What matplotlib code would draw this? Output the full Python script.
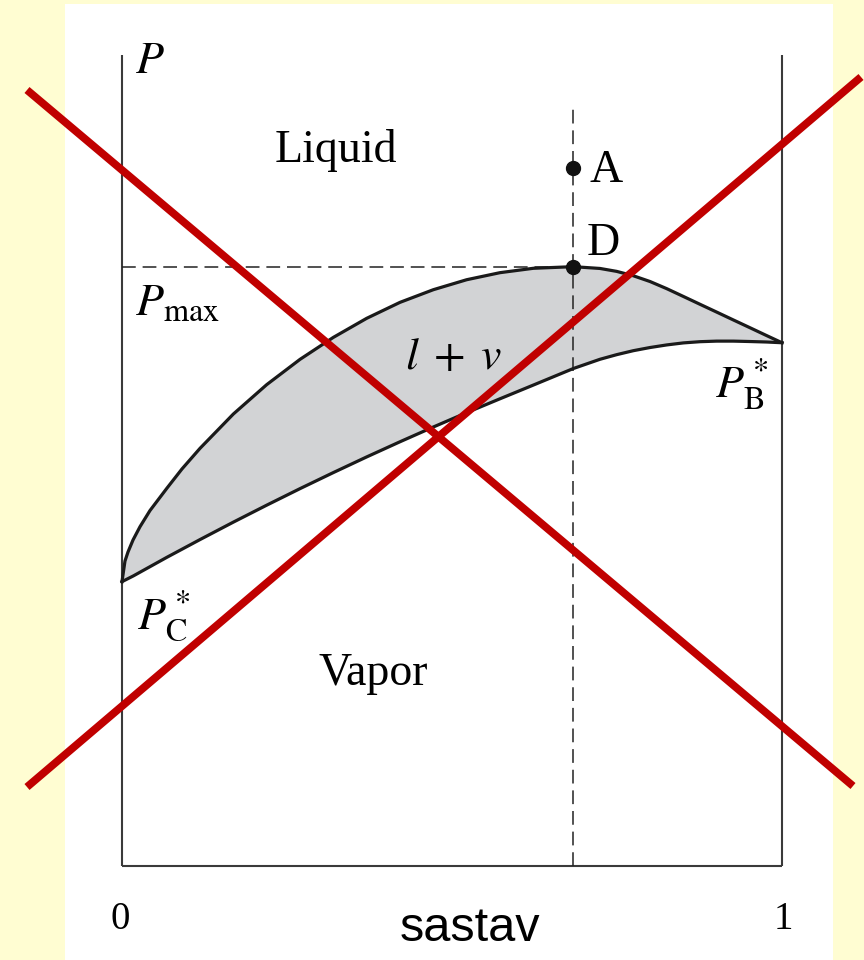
import matplotlib
matplotlib.use("Agg")
import numpy as np
import matplotlib.pyplot as plt
from matplotlib.lines import Line2D
from matplotlib.patches import Rectangle

plt.rcParams['mathtext.fontset'] = 'stix'

# Composition (mole fraction) and pressure, arbitrary units (axis top = 100)
# liquid (bubble-point) curve
x_liquid = [0.0, 0.0045, 0.0091, 0.0167, 0.0273, 0.0424, 0.0682, 0.0909, 0.1182,
            0.1687, 0.2192, 0.2697, 0.3202, 0.3707, 0.4212, 0.4717, 0.5222, 0.5727,
            0.6232, 0.6838, 0.7242, 0.7495, 0.7747, 0.8000, 0.8253, 0.8505, 0.8758,
            0.9010, 0.9263, 0.9515, 0.9768, 1.0]
P_liquid = [35.06, 37.6, 38.72, 40.2, 41.84, 43.83, 46.6, 48.96, 51.50,
            55.73, 59.35, 62.47, 65.18, 67.53, 69.50, 71.06, 72.29, 73.16,
            73.70, 73.90, 73.68, 73.32, 72.78, 72.07, 71.19, 70.23, 69.26,
            68.30, 67.33, 66.37, 65.40, 64.52]

# vapour (dew-point) curve
x_vapor = [0.0, 0.0172, 0.0677, 0.1182, 0.1687, 0.2192, 0.2697, 0.3202, 0.3707,
           0.4212, 0.4717, 0.5222, 0.5727, 0.6232, 0.6838, 0.7242, 0.7495, 0.7747,
           0.8000, 0.8253, 0.8505, 0.8758, 0.9010, 0.9263, 0.9515, 0.9768, 1.0]
P_vapor = [35.06, 35.77, 38.05, 40.25, 42.40, 44.49, 46.53, 48.51, 50.44,
           52.31, 54.13, 55.90, 57.61, 59.30, 61.34, 62.48, 63.05, 63.54,
           63.93, 64.25, 64.50, 64.65, 64.72, 64.72, 64.67, 64.61, 64.52]

x_azeo = 0.6838
P_max = 73.90
P_A = 86.1
P_dash_top = 93.6

fig = plt.figure(figsize=(8.64, 9.6), dpi=100)
fig.patch.set_facecolor('#FFFDD2')
fig.add_artist(Rectangle((65 / 864, 0), (833 - 65) / 864, 956 / 960,
                         transform=fig.transFigure, facecolor='white',
                         edgecolor='none', zorder=0))

ax = fig.add_axes([122 / 864, 94 / 960, 660 / 864, 811 / 960])
ax.set_xlim(0, 1)
ax.set_ylim(0, 100)
ax.axis('off')
ax.patch.set_alpha(0)

# frame: two pressure axes and the composition axis
frame_kw = dict(color='#3a3a3a', lw=1.5, clip_on=False, solid_capstyle='butt')
ax.plot([0, 0], [0, 100], **frame_kw)
ax.plot([1, 1], [0, 100], **frame_kw)
ax.plot([0, 1], [0, 0], **frame_kw)

# two-phase region between the curves
ax.fill(np.concatenate([x_liquid, x_vapor[::-1]]),
        np.concatenate([P_liquid, P_vapor[::-1]]),
        color='#D2D3D5', lw=0, zorder=1)
curve_kw = dict(color='#1a1a1a', lw=2.3, zorder=3, clip_on=False,
                solid_joinstyle='round')
ax.plot(x_liquid, P_liquid, **curve_kw)
ax.plot(x_vapor, P_vapor, **curve_kw)

# dashed guide lines
dash_kw = dict(color='#222222', lw=1.1, linestyle=(0, (9, 4.5)), zorder=2, clip_on=False)
ax.plot([0, x_azeo], [P_max, P_max], **dash_kw)
ax.plot([x_azeo, x_azeo], [0, P_dash_top], **dash_kw)

# points A and D
ax.plot([x_azeo, x_azeo], [P_A, P_max], 'o', color='#111111', ms=10, zorder=4, clip_on=False)

serif = 'Liberation Serif'
fs = 33
ax.text(0.02, 97.8, r'$P$', fontsize=fs, ha='left', va='baseline')
ax.text(0.232, 86.8, 'Liquid', family=serif, fontsize=fs, ha='left', va='baseline')
ax.text(0.708, 84.4, 'A', family=serif, fontsize=fs, ha='left', va='baseline')
ax.text(0.704, 75.3, 'D', family=serif, fontsize=fs, ha='left', va='baseline')
ax.text(0.02, 67.9, r'$P_{\mathrm{max}}$', fontsize=fs, ha='left', va='baseline')
ax.text(0.503, 61.3, r'$l\;+\;v$', fontsize=fs, ha='center', va='baseline')
ax.text(0.979, 57.8, r'$P^*_{\mathrm{B}}$', fontsize=fs, ha='right', va='baseline')
ax.text(0.023, 29.3, r'$P^*_{\mathrm{C}}$', fontsize=fs, ha='left', va='baseline')
ax.text(0.297, 22.3, 'Vapor', family=serif, fontsize=fs, ha='left', va='baseline')
ax.text(-0.003, -7.8, '0', family=serif, fontsize=28, ha='center', va='baseline')
ax.text(1.002, -7.8, '1', family=serif, fontsize=28, ha='center', va='baseline')
ax.text(0.527, -9.3, 'sastav', family='Liberation Sans', fontsize=35,
        ha='center', va='baseline')

# red cross drawn over the whole diagram
red_kw = dict(color='#C00000', lw=5.6, solid_capstyle='butt', transform=fig.transFigure, zorder=10)
fig.add_artist(Line2D([27 / 864, 853 / 864], [1 - 90 / 960, 1 - 786 / 960], **red_kw))
fig.add_artist(Line2D([27 / 864, 861 / 864], [1 - 787 / 960, 1 - 77 / 960], **red_kw))

fig.savefig('out.png', dpi=100, facecolor=fig.get_facecolor())
